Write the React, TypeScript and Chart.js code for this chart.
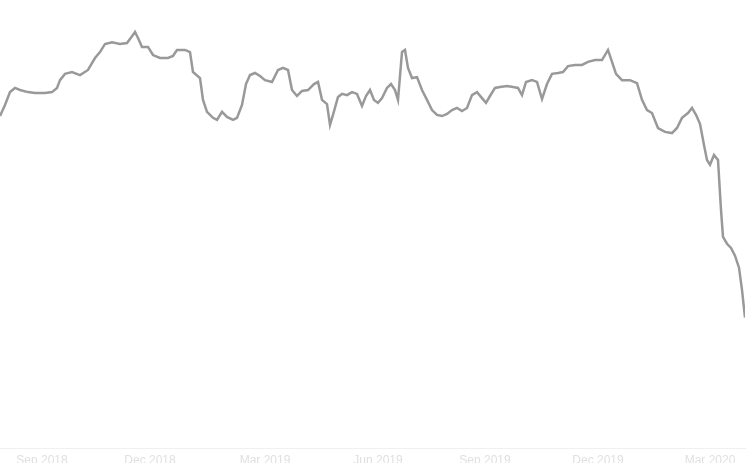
import React, { useEffect, useRef } from "react";
import { Chart, registerables } from "chart.js";

Chart.register(...registerables);

// x positions of observations (trading-day index) and the series values
const days: number[] = [
  0, 5, 10, 15, 20, 28, 35, 45, 52, 57,
  60, 65, 72, 80, 88, 95, 100, 105, 112, 120,
  127, 132, 135, 138, 142, 148, 153, 160, 168, 173,
  177, 185, 190, 193, 200, 203, 207, 213, 217, 222,
  227, 233, 237, 242, 246, 250, 255, 260, 265, 272,
  278, 283, 288, 292, 297, 302, 308, 314, 318, 322,
  327, 330, 333, 338, 342, 347, 352, 357, 362, 366,
  370, 374, 378, 382, 387, 391, 395, 398, 402, 405,
  408, 412, 417, 422, 427, 432, 437, 442, 447, 452,
  457, 462, 467, 472, 477, 482, 486, 490, 495, 500,
  507, 513, 518, 522, 526, 532, 537, 542, 547, 552,
  558, 563, 568, 575, 582, 588, 595, 602, 608, 612,
  616, 622, 630, 637, 642, 647, 652, 658, 665, 672,
  677, 682, 688, 692, 696, 700, 704, 707, 710, 714,
  718, 721, 723, 727, 731, 735, 739, 742, 745,
];

const prices: number[] = [
  111.2, 114.9, 119.2, 120.6, 119.9, 119.2, 118.9, 118.9, 119.2, 120.6,
  123.2, 125.3, 125.9, 124.9, 126.6, 130.6, 132.6, 135.3, 135.9, 135.3,
  135.6, 137.9, 139.3, 137.3, 134.3, 134.3, 131.6, 130.6, 130.6, 131.3,
  133.3, 133.3, 132.6, 125.9, 123.9, 116.6, 112.6, 110.6, 109.9, 112.6,
  110.9, 109.9, 110.6, 114.9, 121.9, 124.9, 125.6, 124.6, 123.2, 122.6,
  126.6, 127.3, 126.6, 119.9, 117.9, 119.6, 119.9, 121.9, 122.6, 116.6,
  115.2, 108.2, 111.6, 117.6, 118.6, 118.2, 119.2, 118.6, 114.6, 117.9,
  119.9, 116.6, 115.6, 117.2, 120.6, 121.9, 119.9, 116.6, 132.6, 133.3,
  127.3, 123.9, 124.2, 119.9, 116.6, 113.2, 111.6, 111.2, 111.9, 113.2,
  113.9, 112.9, 113.9, 118.2, 119.2, 117.2, 115.6, 117.9, 120.6, 120.9,
  121.2, 120.9, 120.6, 118.2, 122.6, 123.2, 122.6, 116.9, 121.9, 125.3,
  125.6, 125.9, 127.9, 128.3, 128.3, 129.3, 129.9, 129.9, 133.3, 129.3,
  125.3, 123.2, 123.2, 122.2, 116.6, 113.2, 112.2, 107.2, 105.9, 105.5,
  107.2, 110.6, 112.2, 113.9, 111.6, 108.6, 101.5, 96.5, 94.9, 98.2,
  96.5, 79.8, 70.8, 68.5, 67.1, 64.5, 60.5, 53.1, 43.8,
];

const tickDays: number[] = [42, 150, 265, 378, 485, 598, 710];
const tickLabels: string[] = [
  "Sep 2018", "Dec 2018", "Mar 2019", "Jun 2019", "Sep 2019", "Dec 2019", "Mar 2020",
];

export default function App() {
  const ref = useRef<HTMLCanvasElement | null>(null);

  useEffect(() => {
    if (!ref.current) return;
    const chart = new Chart(ref.current, {
      type: "line",
      data: {
        datasets: [
          {
            data: days.map((d, i) => ({ x: d, y: prices[i] })),
            borderColor: "#999999",
            borderWidth: 2.5,
            pointRadius: 0,
            tension: 0,
            fill: false,
          },
        ],
      },
      options: {
        responsive: false,
        animation: false,
        layout: { padding: { left: 0, right: 5, top: 0, bottom: 0 } },
        plugins: { legend: { display: false }, tooltip: { enabled: false } },
        scales: {
          x: {
            type: "linear",
            min: 0,
            max: 745,
            afterBuildTicks: (scale: any) => {
              scale.ticks = tickDays.map((v) => ({ value: v }));
            },
            ticks: {
              autoSkip: false,
              maxRotation: 0,
              padding: 5,
              color: "#e0e0e0",
              font: { family: "'Liberation Sans', Arial, sans-serif", size: 12 },
              callback: (v: any) => {
                const i = tickDays.indexOf(Number(v));
                return i >= 0 ? tickLabels[i] : "";
              },
            },
            grid: { display: false, drawTicks: false },
            border: { display: true, color: "#f0f0f0", width: 1 },
          },
          y: {
            display: false,
            min: 0,
            max: 150,
          },
        },
      },
    });
    return () => chart.destroy();
  }, []);

  return (
    <div
      style={{
        position: "fixed",
        left: 0,
        top: 0,
        width: 750,
        height: 463,
        overflow: "hidden",
        background: "#fff",
      }}
    >
      <canvas ref={ref} width={750} height={473} style={{ display: "block", width: 750, height: 473 }} />
    </div>
  );
}
